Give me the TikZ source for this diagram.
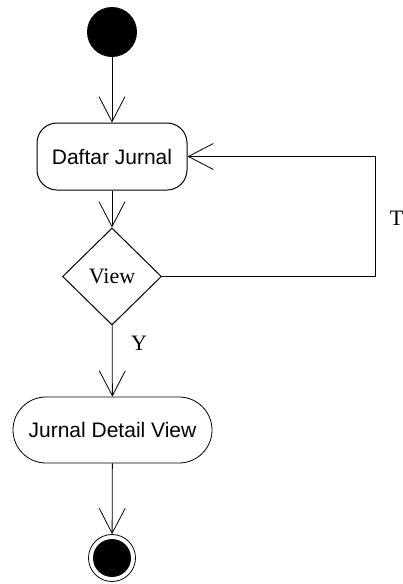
\documentclass[tikz,border=0pt]{standalone}
\usepackage{fontspec}
\setmainfont{Liberation Serif}
\newfontfamily\arialfont{Liberation Sans}
\usetikzlibrary{shapes.geometric,arrows.meta}
\begin{document}
\begin{tikzpicture}[x=1pt,y=-1pt,
  flow/.style={draw, line width=0.8pt, -{Straight Barb[length=25pt,width=26pt,line width=0.8pt]}},
  action/.style={draw, line width=1pt, rounded corners=20pt, font=\arialfont\fontsize{21}{24}\selectfont,
    minimum width=150pt, minimum height=67pt, inner sep=0pt},
  pill/.style={draw, line width=0.8pt, rounded corners=33pt, font=\arialfont\fontsize{21}{24}\selectfont,
    minimum width=199pt, minimum height=66pt, inner sep=0pt},
  choice/.style={draw, line width=1pt, diamond, minimum width=99pt, minimum height=97pt, inner sep=0pt,
    font=\fontsize{22}{24}\selectfont},
  guard/.style={font=\fontsize{22}{24}\selectfont}
]
\useasboundingbox (0,0) rectangle (403,584);
% start and end markers
\node (start) [circle, fill=black, minimum size=50pt, inner sep=0pt] at (112,32) {};
\node (daftar) [action] at (112,156.5) {Daftar Jurnal};
\node (view) [choice] at (112,276.5) {View};
\node (detail) [pill] at (112.5,430) {Jurnal Detail View};
\node (stop) [circle, draw, line width=0.8pt, minimum size=47pt, inner sep=0pt] at (112,558) {};
\node (stopdot) [circle, fill=black, minimum size=38pt, inner sep=0pt] at (stop.center) {};
\coordinate (loopbot) at (375,276.5);
\coordinate (looptop) at (375,156.5);
% transitions
\draw[flow] (start) -- (daftar);
\draw[flow] (daftar) -- (view);
\draw[flow] (view) -- (detail);
\draw[flow] (detail) -- (stop);
\draw[flow] (view.east) -- (loopbot) -- (looptop) -- (daftar.east);
% guard labels
\node (tlabel) [guard] at (396.5,218.5) {T};
\node (ylabel) [guard] at (139,343.5) {Y};
\end{tikzpicture}
\end{document}
